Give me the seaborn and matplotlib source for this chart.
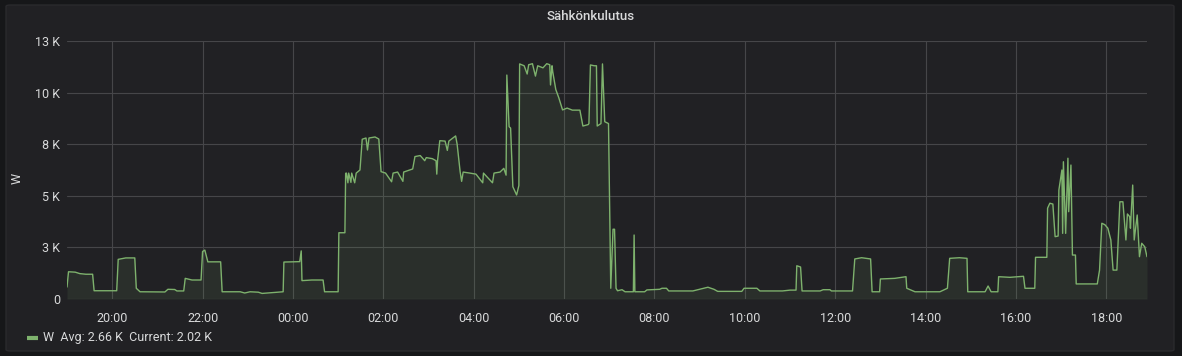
import numpy as np
import pandas as pd
import matplotlib
matplotlib.use("Agg")
import matplotlib.pyplot as plt
import matplotlib.dates as mdates
from matplotlib.lines import Line2D
from matplotlib.patches import FancyBboxPatch
import seaborn as sns

# ---------------- data ----------------
times = [
    "19:00", "19:02", "19:11", "19:17", "19:25", "19:34", "19:36", "20:06", "20:08", "20:18",
    "20:30", "20:32", "20:37", "21:10", "21:14", "21:23", "21:26", "21:35", "21:37", "21:46",
    "21:58", "22:00", "22:03", "22:07", "22:24", "22:26", "22:50", "22:56", "23:03", "23:14",
    "23:19", "23:47", "23:48", "00:09", "00:11", "00:12", "00:25", "00:40", "00:42", "01:00",
    "01:01", "01:09", "01:10", "01:11", "01:13", "01:14", "01:17", "01:18", "01:22", "01:24",
    "01:29", "01:32", "01:37", "01:39", "01:41", "01:49", "01:54", "01:57", "02:03", "02:11",
    "02:13", "02:19", "02:26", "02:27", "02:35", "02:39", "02:42", "02:49", "02:55", "02:57",
    "03:05", "03:10", "03:11", "03:12", "03:15", "03:22", "03:25", "03:27", "03:36", "03:38",
    "03:42", "03:44", "03:46", "03:55", "04:03", "04:12", "04:13", "04:25", "04:27", "04:35",
    "04:40", "04:43", "04:44", "04:47", "04:49", "04:52", "04:57", "05:00", "05:01", "05:07",
    "05:11", "05:13", "05:18", "05:22", "05:25", "05:32", "05:37", "05:41", "05:42", "05:44",
    "05:45", "05:49", "05:53", "05:58", "06:04", "06:11", "06:21", "06:25", "06:32", "06:33",
    "06:35", "06:40", "06:43", "06:44", "06:49", "06:51", "06:54", "06:59", "07:02", "07:05",
    "07:07", "07:09", "07:11", "07:17", "07:21", "07:32", "07:33", "07:34", "07:47", "07:50",
    "08:07", "08:10", "08:16", "08:19", "08:51", "09:00", "09:11", "09:19", "09:24", "09:56",
    "09:59", "10:16", "10:20", "10:50", "11:00", "11:08", "11:09", "11:14", "11:16", "11:40",
    "11:44", "11:53", "11:55", "12:23", "12:26", "12:35", "12:47", "12:49", "12:59", "13:00",
    "13:19", "13:34", "13:35", "13:46", "14:19", "14:29", "14:32", "14:45", "14:55", "14:56",
    "15:19", "15:23", "15:27", "15:36", "15:37", "15:52", "16:10", "16:12", "16:25", "16:26",
    "16:41", "16:42", "16:45", "16:49", "16:52", "16:56", "16:57", "17:01", "17:02", "17:03",
    "17:06", "17:09", "17:10", "17:13", "17:14", "17:15", "17:19", "17:20", "17:48", "17:51",
    "17:54", "17:58", "18:02", "18:06", "18:09", "18:14", "18:18", "18:22", "18:26", "18:28",
    "18:31", "18:32", "18:35", "18:37", "18:41", "18:44", "18:47", "18:51", "18:54",
]
watts = [
    580, 1320, 1300, 1230, 1200, 1200, 400, 400, 1920, 1990,
    1990, 520, 350, 340, 470, 460, 390, 390, 1000, 920,
    920, 2300, 2370, 1800, 1800, 350, 350, 290, 350, 330,
    270, 350, 1790, 1810, 2330, 890, 920, 920, 350, 350,
    3210, 3210, 6090, 6100, 5630, 6100, 5650, 6100, 5630, 6100,
    6250, 7740, 7800, 7220, 7800, 7850, 7750, 6170, 6100, 5680,
    6100, 6150, 5700, 6150, 6250, 6300, 6900, 6950, 6700, 6850,
    6800, 6700, 6050, 6700, 7670, 7650, 7200, 7650, 7900, 7500,
    6170, 5700, 6150, 6100, 6050, 5630, 6100, 5630, 6100, 6150,
    6330, 6000, 10850, 8350, 8280, 5440, 5040, 5500, 11390, 11300,
    10900, 11350, 11400, 10800, 11300, 11200, 11400, 11350, 10370, 11300,
    11000, 10150, 9750, 9160, 9250, 9150, 9150, 8380, 8450, 8500,
    11340, 11300, 11300, 8380, 8500, 11390, 8590, 8500, 520, 3380,
    3380, 520, 400, 450, 350, 350, 3100, 350, 350, 440,
    470, 520, 520, 390, 390, 470, 570, 470, 370, 370,
    520, 520, 390, 390, 430, 430, 1610, 1550, 390, 390,
    450, 450, 390, 390, 1940, 2000, 1940, 350, 350, 970,
    1000, 1080, 520, 350, 350, 520, 1970, 2000, 1970, 350,
    350, 630, 350, 350, 1080, 1050, 1100, 520, 520, 2020,
    2020, 4400, 4640, 4600, 3020, 3050, 5280, 6250, 3180, 6650,
    3180, 6820, 4230, 6490, 4230, 2130, 2130, 730, 730, 1400,
    3670, 3600, 3430, 2860, 1400, 1400, 4710, 4710, 2860, 4120,
    3990, 3430, 5520, 2860, 4070, 2050, 2700, 2530, 2050,
]
y_ticks = [0, 2500, 5000, 7500, 10000, 12500]
y_tick_labels = ["0", "3 K", "5 K", "8 K", "10 K", "13 K"]
title = "Sähkönkulutus"
y_label = "W"
legend_name = "W"
legend_stats = "Avg: 2.66 K  Current: 2.02 K"

# ---------------- build timestamps (day rollover at midnight) ----------------
base = pd.Timestamp("2020-01-01")
stamps = []
day = 0
prev = None
for t in times:
    h, m = map(int, t.split(":"))
    if prev is not None and h < prev:
        day += 1
    prev = h
    stamps.append(base + pd.Timedelta(days=day, hours=h, minutes=m))
df = pd.DataFrame({"time": stamps, "W": watts})

# ---------------- style ----------------
BG_OUT = "#161719"
BG_PANEL = "#212124"
GRID = "#464649"
TEXT = "#d8d9da"
GREEN = "#7eb26d"

sns.set_theme(style="dark")
plt.rcParams["font.family"] = ["Roboto", "DejaVu Sans"]

fig = plt.figure(figsize=(11.82, 3.56), dpi=100, facecolor=BG_OUT)
panel = FancyBboxPatch((6 / 1182, 5 / 356), 1168 / 1182, 346 / 356,
                       boxstyle="round,pad=0,rounding_size=0.004",
                       transform=fig.transFigure, facecolor=BG_PANEL,
                       edgecolor="#2a2a2d", linewidth=1, zorder=-10)
fig.patches.append(panel)

ax = fig.add_axes([67 / 1182, 1 - 299 / 356, (1147 - 67) / 1182, (299 - 41) / 356])
ax.set_zorder(5)
ax.set_facecolor("none")
ax.patch.set_alpha(0)

sns.lineplot(data=df, x="time", y="W", ax=ax, color=GREEN, linewidth=1.0, zorder=3)
ax.fill_between(df["time"], df["W"], 0, color=GREEN, alpha=0.1, linewidth=0, zorder=2)

ax.set_xlim(df["time"].iloc[0], df["time"].iloc[-1])
ax.set_ylim(0, 12500)
ax.set_yticks(y_ticks)
ax.set_yticklabels(y_tick_labels)
ax.xaxis.set_major_locator(mdates.HourLocator(byhour=range(0, 24, 2)))
ax.xaxis.set_major_formatter(mdates.DateFormatter("%H:%M"))

ax.grid(True, color=GRID, linewidth=0.8)
ax.set_axisbelow(True)
for s in ax.spines.values():
    s.set_visible(False)
ax.tick_params(axis="both", length=0, colors=TEXT, labelsize=9)
ax.tick_params(axis="x", pad=9)
ax.tick_params(axis="y", pad=5)
ax.set_xlabel("")
ax.set_ylabel("")

fig.text(591 / 1182, 1 - 17 / 356, title, ha="center", va="center",
         color=TEXT, fontsize=9.5, fontweight="medium")
fig.text(17 / 1182, 1 - 178 / 356, y_label, ha="center", va="center",
         rotation=90, color=TEXT, fontsize=9)

fig.add_artist(Line2D([27 / 1182, 38 / 1182], [1 - 338 / 356, 1 - 338 / 356],
                      transform=fig.transFigure, color=GREEN, linewidth=3,
                      solid_capstyle="butt"))
fig.text(43 / 1182, 1 - 338 / 356, legend_name + "  " + legend_stats,
         ha="left", va="center", color=TEXT, fontsize=9)

fig.savefig("out.png", dpi=100, facecolor=BG_OUT)
